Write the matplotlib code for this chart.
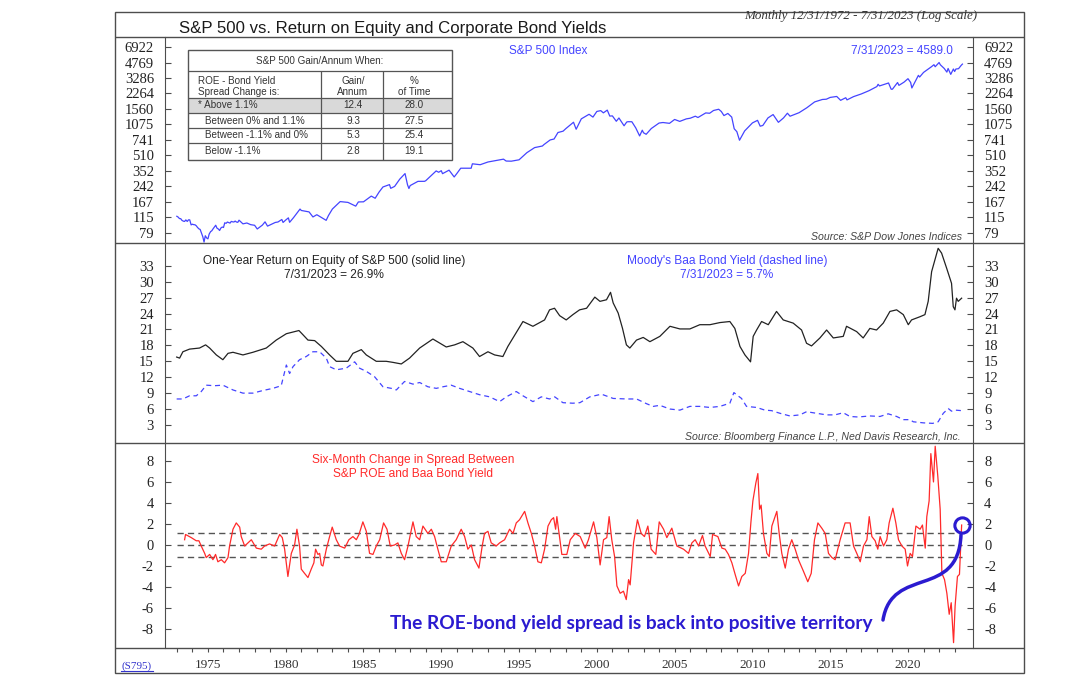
import matplotlib
matplotlib.use("Agg")
import matplotlib.pyplot as plt
from matplotlib.path import Path
from matplotlib.patches import PathPatch, Rectangle
from matplotlib.ticker import NullLocator, FixedLocator

plt.rcParams['axes.unicode_minus'] = False
plt.rcParams['font.family'] = ['Liberation Serif', 'DejaVu Serif']

# ---- S&P 500 index, month end (log scale panel) ----
spx_dates = [1973.00, 1973.08, 1973.17, 1973.25, 1973.33, 1973.42, 1973.50, 1973.58, 1973.67, 1973.75,
             1973.83, 1973.92, 1974.00, 1974.08, 1974.17, 1974.25, 1974.33, 1974.42, 1974.50, 1974.58,
             1974.67, 1974.75, 1974.83, 1974.92, 1975.00, 1975.08, 1975.17, 1975.25, 1975.33, 1975.42,
             1975.50, 1975.58, 1975.67, 1975.75, 1975.83, 1975.92, 1976.00, 1976.08, 1976.17, 1976.25,
             1976.33, 1976.42, 1976.50, 1976.58, 1976.67, 1976.75, 1976.83, 1976.92, 1977.00, 1977.25,
             1977.50, 1977.75, 1978.00, 1978.17, 1978.50, 1978.67, 1978.83, 1979.00, 1979.33, 1979.50,
             1979.75, 1979.83, 1980.00, 1980.17, 1980.25, 1980.50, 1980.92, 1981.00, 1981.50, 1981.75,
             1982.00, 1982.50, 1982.60, 1982.75, 1983.00, 1983.50, 1984.00, 1984.50, 1984.67, 1985.00,
             1985.50, 1985.75, 1986.00, 1986.25, 1986.67, 1986.75, 1987.00, 1987.33, 1987.67, 1987.83,
             1987.92, 1988.00, 1988.50, 1988.92, 1989.00, 1989.67, 1989.83, 1990.00, 1990.08, 1990.50,
             1990.83, 1991.00, 1991.25, 1991.92, 1992.00, 1992.50, 1993.00, 1993.50, 1994.00, 1994.17,
             1994.50, 1995.00, 1995.50, 1996.00, 1996.50, 1996.60, 1997.00, 1997.25, 1997.50, 1997.67,
             1997.83, 1998.00, 1998.50, 1998.67, 1999.00, 1999.50, 1999.75, 2000.00, 2000.25, 2000.42,
             2000.67, 2000.83, 2001.00, 2001.25, 2001.42, 2001.75, 2001.92, 2002.00, 2002.25, 2002.50,
             2002.75, 2002.92, 2003.00, 2003.17, 2003.50, 2004.00, 2004.25, 2004.67, 2005.00, 2005.33,
             2005.75, 2006.00, 2006.33, 2006.50, 2007.00, 2007.25, 2007.50, 2007.83, 2008.00, 2008.17,
             2008.42, 2008.67, 2008.83, 2009.00, 2009.17, 2009.50, 2010.00, 2010.25, 2010.33, 2010.50,
             2010.67, 2011.00, 2011.33, 2011.67, 2012.00, 2012.25, 2012.42, 2013.00, 2013.50, 2014.00,
             2014.50, 2014.75, 2015.00, 2015.42, 2015.67, 2016.00, 2016.08, 2016.50, 2017.00, 2017.50,
             2018.00, 2018.08, 2018.17, 2018.75, 2018.92, 2019.00, 2019.33, 2019.42, 2019.75, 2020.00,
             2020.17, 2020.25, 2020.50, 2020.67, 2020.75, 2021.00, 2021.50, 2021.67, 2021.75, 2022.00,
             2022.08, 2022.33, 2022.50, 2022.58, 2022.75, 2022.92, 2023.00, 2023.08, 2023.25, 2023.42,
             2023.50]
spx_values = [118.1, 116.0, 111.7, 111.5, 107.0, 105.0, 104.3, 108.2, 104.3, 108.4,
              108.3, 96.0, 97.6, 96.6, 96.2, 94.0, 90.3, 87.3, 86.0, 79.3,
              72.2, 63.5, 73.9, 70.0, 68.6, 77.0, 81.6, 83.4, 87.3, 91.2,
              95.2, 88.8, 86.9, 83.9, 89.0, 91.2, 90.2, 100.9, 99.7, 102.8,
              101.6, 100.2, 104.3, 103.4, 102.9, 105.2, 102.9, 102.1, 107.5, 98.4,
              100.5, 96.5, 95.1, 87.0, 95.5, 103.3, 93.2, 96.1, 101.8, 102.9,
              109.3, 101.8, 107.9, 113.7, 102.1, 114.2, 140.5, 135.8, 131.2, 116.2,
              122.6, 109.6, 107.1, 120.4, 140.6, 168.1, 164.9, 150.7, 166.7, 167.2,
              191.9, 182.1, 211.3, 238.9, 252.9, 231.3, 242.2, 288.4, 329.8, 251.8,
              230.3, 247.1, 273.5, 273.7, 277.7, 351.5, 340.4, 353.4, 329.1, 358.0,
              304.0, 330.2, 375.2, 375.2, 417.1, 408.1, 435.7, 450.5, 466.5, 445.8,
              444.3, 459.3, 544.8, 615.9, 640.0, 662.5, 740.7, 757.1, 885.1, 899.5,
              914.6, 970.4, 1133.8, 957.3, 1229.2, 1372.7, 1282.7, 1469.3, 1498.6, 1420.6,
              1517.7, 1315.2, 1320.3, 1160.3, 1255.8, 1040.9, 1139.5, 1148.1, 1147.4, 989.8,
              815.3, 936.3, 879.8, 848.2, 974.5, 1111.9, 1126.2, 1104.2, 1211.9, 1156.9,
              1228.8, 1248.3, 1310.6, 1270.2, 1418.3, 1406.8, 1503.4, 1549.4, 1468.4, 1330.6,
              1400.4, 1282.8, 968.8, 903.3, 735.1, 919.3, 1115.1, 1169.4, 1186.7, 1030.7,
              1049.3, 1257.6, 1363.6, 1131.4, 1257.6, 1408.5, 1310.3, 1426.2, 1606.3, 1848.4,
              1960.2, 1972.3, 2058.9, 2107.4, 1920.0, 2043.9, 1940.2, 2098.9, 2238.8, 2423.4,
              2673.6, 2823.8, 2713.8, 2914.0, 2506.9, 2506.9, 2945.8, 2752.1, 2976.7, 3230.8,
              2954.2, 2584.6, 3100.3, 3500.3, 3363.0, 3756.1, 4297.5, 4522.7, 4307.5, 4766.2,
              4515.6, 4131.9, 3785.4, 4130.3, 3585.6, 4080.1, 3839.5, 4076.6, 4109.3, 4450.4,
              4589.0]
spx_ticks = [79, 115, 167, 242, 352, 510, 741, 1075, 1560, 2264, 3286, 4769, 6922]

# ---- One-year ROE of S&P 500 (%) ----
roe_dates = [1972.99, 1973.18, 1973.39, 1973.82, 1974.46, 1974.85, 1975.11, 1975.54, 1975.96, 1976.29,
             1976.61, 1977.25, 1977.89, 1978.75, 1979.39, 1980.04, 1980.85, 1981.11, 1981.43, 1981.86,
             1982.29, 1982.82, 1983.25, 1984.00, 1984.32, 1984.86, 1985.18, 1985.82, 1986.46, 1986.89,
             1987.43, 1987.96, 1988.61, 1989.46, 1990.32, 1990.86, 1991.39, 1992.03, 1992.46, 1993.00,
             1993.43, 1993.96, 1994.28, 1995.25, 1995.89, 1996.64, 1996.96, 1997.28, 1997.61, 1998.03,
             1998.46, 1998.89, 1999.34, 1999.87, 2000.20, 2000.62, 2000.88, 2001.05, 2001.37, 2001.65,
             2001.90, 2002.12, 2002.55, 2002.98, 2003.41, 2004.05, 2004.70, 2005.34, 2005.98, 2006.62,
             2007.27, 2007.91, 2008.55, 2008.87, 2009.20, 2009.52, 2009.88, 2010.05, 2010.27, 2010.59,
             2011.02, 2011.55, 2011.98, 2012.62, 2013.16, 2013.48, 2013.80, 2014.34, 2014.77, 2015.20,
             2015.84, 2016.05, 2016.70, 2017.12, 2017.55, 2017.98, 2018.41, 2018.84, 2019.27, 2019.70,
             2020.02, 2020.23, 2020.77, 2021.09, 2021.30, 2021.52, 2021.73, 2021.94, 2022.16, 2022.48,
             2022.80, 2022.91, 2023.02, 2023.12, 2023.23, 2023.45]
roe_values = [15.8, 15.6, 16.8, 17.3, 17.5, 18.1, 17.5, 16.2, 15.3, 16.5,
              16.7, 16.2, 16.7, 17.5, 19.0, 20.2, 20.8, 20.0, 19.0, 18.9,
              17.8, 16.2, 15.0, 15.0, 16.5, 17.2, 16.2, 15.0, 15.0, 14.8,
              14.5, 15.6, 17.5, 19.2, 17.7, 18.1, 18.7, 17.5, 15.9, 16.8,
              16.2, 15.9, 17.8, 22.5, 21.6, 22.8, 24.7, 25.0, 23.6, 22.8,
              23.8, 24.7, 25.0, 27.1, 26.3, 26.6, 28.0, 26.0, 24.1, 21.2,
              18.1, 17.5, 19.0, 19.5, 18.7, 19.7, 21.6, 21.1, 21.1, 21.9,
              21.9, 22.3, 22.5, 21.2, 17.8, 16.2, 14.9, 19.7, 20.9, 22.5,
              21.9, 24.4, 22.8, 22.2, 20.9, 18.4, 17.9, 19.4, 20.9, 19.4,
              19.7, 21.6, 20.6, 19.4, 21.2, 20.9, 22.2, 24.4, 24.7, 23.8,
              21.9, 22.8, 23.4, 23.8, 26.3, 31.9, 34.1, 36.3, 35.4, 32.6,
              29.7, 25.3, 24.7, 26.9, 26.3, 26.9]

# ---- Moody's Baa bond yield (%) ----
baa_dates = [1972.99, 1973.39, 1973.82, 1974.25, 1974.57, 1974.89, 1975.43, 1975.96, 1976.61, 1977.25,
             1977.89, 1978.54, 1979.18, 1979.71, 1980.04, 1980.25, 1980.47, 1980.89, 1981.32, 1981.75,
             1982.18, 1982.61, 1982.82, 1983.25, 1983.89, 1984.43, 1984.75, 1985.18, 1985.71, 1986.25,
             1986.79, 1987.11, 1987.64, 1988.18, 1988.61, 1989.14, 1989.68, 1990.11, 1990.64, 1991.18,
             1991.82, 1992.46, 1993.11, 1993.75, 1994.18, 1994.82, 1995.25, 1995.89, 1996.43, 1996.96,
             1997.29, 1997.82, 1998.46, 1998.91, 1999.55, 2000.30, 2001.05, 2001.91, 2002.55, 2003.20,
             2003.62, 2004.05, 2004.70, 2005.34, 2005.98, 2006.62, 2007.27, 2007.91, 2008.55, 2008.81,
             2008.98, 2009.30, 2009.62, 2010.27, 2010.80, 2011.23, 2011.77, 2012.41, 2013.05, 2013.48,
             2014.12, 2014.77, 2015.30, 2015.84, 2016.27, 2016.80, 2017.55, 2018.20, 2018.73, 2019.27,
             2019.70, 2020.12, 2020.34, 2020.98, 2021.59, 2021.94, 2022.27, 2022.59, 2022.80, 2023.02,
             2023.45]
baa_values = [7.9, 7.9, 8.5, 8.5, 9.3, 10.5, 10.4, 10.5, 9.6, 9.0,
              9.0, 9.5, 9.9, 10.4, 14.3, 12.7, 14.0, 15.3, 15.9, 16.8,
              16.8, 15.6, 14.0, 13.4, 13.7, 14.9, 13.7, 13.1, 12.1, 10.2,
              9.9, 9.6, 11.2, 10.7, 11.0, 10.2, 9.9, 10.2, 10.5, 9.9,
              9.3, 8.7, 8.3, 7.4, 8.3, 9.3, 8.5, 7.4, 8.3, 7.9,
              8.3, 7.2, 7.1, 7.2, 8.3, 8.8, 8.0, 7.9, 7.9, 7.0,
              6.5, 6.7, 6.0, 5.8, 6.5, 6.5, 6.3, 6.5, 7.1, 9.1,
              8.7, 8.0, 6.5, 6.3, 5.8, 5.7, 5.2, 4.7, 4.9, 5.5,
              5.2, 4.9, 4.9, 5.3, 4.6, 4.5, 4.7, 4.6, 5.1, 4.6,
              4.0, 4.0, 3.6, 3.4, 3.3, 3.6, 5.2, 6.1, 5.6, 5.8,
              5.7]

# ---- Six-month change in ROE minus Baa spread ----
spread_dates = [1973.50, 1973.56, 1973.93, 1974.25, 1974.42, 1974.57, 1974.79, 1974.89, 1975.11, 1975.32,
                1975.49, 1975.64, 1975.86, 1976.07, 1976.29, 1976.39, 1976.61, 1976.82, 1977.04, 1977.14,
                1977.36, 1977.79, 1978.11, 1978.43, 1978.64, 1978.96, 1979.29, 1979.61, 1979.78, 1979.93,
                1980.14, 1980.36, 1980.57, 1980.72, 1980.89, 1981.00, 1981.21, 1981.43, 1981.64, 1981.81,
                1981.92, 1982.07, 1982.18, 1982.29, 1982.39, 1982.61, 1982.82, 1982.99, 1983.25, 1983.46,
                1983.79, 1984.06, 1984.32, 1984.54, 1984.71, 1984.96, 1985.18, 1985.39, 1985.61, 1985.82,
                1986.04, 1986.29, 1986.51, 1986.72, 1987.00, 1987.21, 1987.43, 1987.64, 1987.86, 1988.18,
                1988.39, 1988.61, 1988.82, 1989.14, 1989.36, 1989.57, 1989.78, 1990.00, 1990.32, 1990.64,
                1990.96, 1991.28, 1991.50, 1991.71, 1991.93, 1992.14, 1992.42, 1992.63, 1992.78, 1993.00,
                1993.21, 1993.53, 1993.75, 1994.07, 1994.39, 1994.61, 1994.82, 1995.03, 1995.36, 1995.57,
                1995.79, 1996.00, 1996.21, 1996.43, 1996.64, 1996.86, 1997.07, 1997.22, 1997.35, 1997.43,
                1997.75, 1998.07, 1998.29, 1998.61, 1998.93, 1999.25, 1999.46, 1999.79, 2000.00, 2000.21,
                2000.43, 2000.64, 2000.79, 2000.96, 2001.14, 2001.29, 2001.50, 2001.71, 2001.89, 2002.04,
                2002.14, 2002.36, 2002.61, 2002.85, 2003.06, 2003.28, 2003.49, 2003.79, 2004.01, 2004.29,
                2004.50, 2004.82, 2005.14, 2005.57, 2005.89, 2006.11, 2006.32, 2006.54, 2006.79, 2006.96,
                2007.29, 2007.44, 2007.78, 2008.04, 2008.25, 2008.46, 2008.68, 2008.89, 2009.11, 2009.32,
                2009.54, 2009.75, 2009.90, 2010.03, 2010.22, 2010.35, 2010.46, 2010.56, 2010.71, 2010.93,
                2011.08, 2011.25, 2011.57, 2011.72, 2011.89, 2012.11, 2012.32, 2012.53, 2012.75, 2012.96,
                2013.28, 2013.56, 2013.78, 2013.99, 2014.21, 2014.46, 2014.68, 2014.89, 2015.11, 2015.32,
                2015.64, 2015.96, 2016.28, 2016.50, 2016.71, 2016.93, 2017.14, 2017.36, 2017.51, 2017.68,
                2017.89, 2018.06, 2018.21, 2018.43, 2018.64, 2018.79, 2019.03, 2019.22, 2019.39, 2019.61,
                2019.82, 2019.97, 2020.14, 2020.29, 2020.51, 2020.78, 2020.93, 2021.11, 2021.21, 2021.36,
                2021.47, 2021.64, 2021.75, 2021.92, 2022.07, 2022.18, 2022.35, 2022.50, 2022.65, 2022.78,
                2022.93, 2023.03, 2023.18, 2023.31, 2023.45]
spread_values = [0.5, 1.0, 0.7, 0.4, 0.4, -0.1, -0.8, -1.2, -0.9, -1.4,
                 -0.9, -1.6, -1.4, -1.7, -1.2, -0.1, 1.5, 2.1, 1.7, 0.8,
                 -0.1, 0.5, -0.3, -0.4, -0.1, 0.1, -0.1, 1.0, 0.7, -0.4,
                 -3.0, -0.8, 0.0, 1.5, -0.1, -2.3, -2.7, -3.1, -2.3, -1.7,
                 -0.4, -0.9, -0.8, -1.9, -2.0, -0.4, 0.8, 1.7, 0.5, -0.1,
                 -0.3, 0.5, 0.8, 0.5, 1.0, 2.2, 1.3, -0.8, -0.9, -0.1,
                 0.5, 2.1, 1.5, -0.1, 0.0, 0.2, -0.8, -1.4, -0.1, 2.2,
                 0.8, 0.5, 1.8, 1.1, 1.5, 0.8, -0.4, -1.6, -1.6, -0.1,
                 0.5, 1.5, 0.8, -0.4, 0.0, -1.4, -2.2, -0.1, 1.1, 1.3,
                 0.2, -0.1, 0.2, 0.5, 1.5, 1.1, 2.1, 2.4, 3.2, 2.1,
                 1.1, -0.1, -1.6, -1.7, -0.4, 1.8, 2.4, 2.6, 1.5, 2.7,
                 -0.9, -0.9, 0.5, 1.1, 0.8, -0.3, 0.5, 2.2, 0.7, -1.9,
                 0.5, 0.7, 2.7, 0.5, -1.1, -3.9, -4.6, -4.4, -5.2, -3.3,
                 -3.8, 0.2, 2.4, 1.1, 0.8, 1.8, -0.4, -0.9, 2.2, 1.5,
                 0.7, 1.6, -0.1, -0.4, -0.8, 0.2, 0.5, -0.1, 0.9, -0.1,
                 -1.1, 1.0, 0.8, -0.3, -0.4, -0.9, -1.7, -2.8, -3.9, -3.0,
                 -2.7, -0.8, 2.1, 4.2, 5.9, 6.8, 3.4, 3.8, 1.1, -0.8,
                 -1.1, 1.8, 3.2, 1.1, -0.8, -2.2, -0.4, 0.5, -0.4, -1.4,
                 -2.5, -3.5, -2.7, 0.5, 2.1, 1.6, 1.1, -0.8, -1.2, -1.4,
                 0.5, 2.1, 2.1, -0.1, -0.8, -1.6, -0.1, 0.5, 2.7, 0.8,
                 0.4, -0.4, 0.8, -0.1, 0.5, 2.1, 3.5, 2.1, 0.5, -0.1,
                 -0.4, -2.0, -0.8, -1.1, 1.8, 1.5, 1.9, -0.3, 2.7, 4.2,
                 8.7, 6.0, 9.4, 6.5, 3.4, -2.7, -3.3, -4.6, -6.6, -5.5,
                 -9.3, -5.8, -3.0, -2.8, 1.9]
spread_bands = [1.1, 0.0, -1.1]

# ---- table in top panel ----
table_title = "S&P 500 Gain/Annum When:"
table_head = ["ROE - Bond Yield\nSpread Change is:", "Gain/\nAnnum", "%\nof Time"]
spread_ranges = ["* Above 1.1%", "Between 0% and 1.1%", "Between -1.1% and 0%", "Below -1.1%"]
gain_per_annum = [12.4, 9.3, 5.3, 2.8]
pct_of_time = [28.0, 27.5, 25.4, 19.1]

SANS = ['Liberation Sans', 'DejaVu Sans']
SERIF = ['Liberation Serif', 'DejaVu Serif']
FRAME = '#4d4d4d'
BLUE = '#4444ff'
RED = '#ff2a2a'
ANN = '#2b1bd0'

W, H = 1080, 675
fig = plt.figure(figsize=(W / 100, H / 100), dpi=100)


def px_axes(x0, y0, x1, y1, **kw):
    return fig.add_axes([x0 / W, 1 - y1 / H, (x1 - x0) / W, (y1 - y0) / H], **kw)


ax1 = px_axes(165, 37, 973, 243)
ax2 = px_axes(165, 243, 973, 443)
ax3 = px_axes(165, 443, 973, 648)

for ax in (ax1, ax2, ax3):
    ax.set_facecolor('none')
    ax.set_xlim(1972.24, 2024.18)
    ax.spines['top'].set_visible(False)
    ax.spines['bottom'].set_visible(False)
    ax.spines['left'].set_color(FRAME)
    ax.spines['right'].set_color(FRAME)
    ax.tick_params(axis='y', which='both', direction='in', length=4, width=0.8, color=FRAME,
                   left=True, right=True, labelleft=True, labelright=True,
                   labelsize=10.5, pad=8, labelcolor='#222222')
    ax.tick_params(axis='x', which='both', bottom=False, labelbottom=False)

# top panel
ax1.plot(spx_dates, spx_values, color=BLUE, lw=0.9)
ax1.set_yscale('log')
ax1.set_ylim(62.1, 8806)
ax1.yaxis.set_major_locator(FixedLocator(spx_ticks))
ax1.yaxis.set_minor_locator(NullLocator())
ax1.set_yticklabels([str(t) for t in spx_ticks])

# middle panel
ax2.plot(roe_dates, roe_values, color='#222222', lw=0.9)
ax2.plot(baa_dates, baa_values, color=BLUE, lw=0.9, ls=(0, (4, 3)))
ax2.set_ylim(-0.4, 37.3)
ax2.set_yticks(range(3, 34, 3))

# bottom panel
ax3.hlines(spread_bands, spx_dates[0], spx_dates[-1], colors='#555555', lw=1,
           linestyles=(0, (4.5, 3)))
ax3.plot(spread_dates, spread_values, color=RED, lw=0.9)
ax3.plot(spread_dates[-1], spread_values[-1], 'o', ms=11, mfc='none', mec=ANN, mew=2.2, clip_on=False)
ax3.set_ylim(-9.81, 9.71)
ax3.set_yticks(range(-8, 9, 2))
ax3.set_xticks(range(1975, 2021, 5))
ax3.set_xticks(range(1973, 2024), minor=True)
ax3.tick_params(axis='x', which='both', bottom=True, labelbottom=True, direction='out',
                length=3, width=0.8, color=FRAME, labelsize=9.5, pad=5, labelcolor='#333333')
ax3.tick_params(axis='x', which='minor', labelbottom=False)

# overlay in pixel coordinates for the frame, headings, table and note
ov = fig.add_axes([0, 0, 1, 1], zorder=5)
ov.set_xlim(0, W)
ov.set_ylim(H, 0)
ov.axis('off')
ov.patch.set_alpha(0)

ov.add_patch(Rectangle((115, 12), 909, 661, fill=False, ec=FRAME, lw=1))
ov.hlines([37, 243, 443, 648], 115, 1024, colors=FRAME, lw=1)

ov.text(393, 33, "S&P 500 vs. Return on Equity and Corporate Bond Yields", family=SANS,
        fontsize=12.1, color='#1a1a1a', ha='center', va='baseline')
ov.text(977, 19, "Monthly 12/31/1972 - 7/31/2023 (Log Scale)", family=SERIF, style='italic',
        fontsize=9.4, color='#333333', ha='right', va='baseline')

ov.text(548, 51, "S&P 500 Index", family=SANS, fontsize=8.5, color=BLUE, ha='center', va='center')
ov.text(953, 51, "7/31/2023 = 4589.0", family=SANS, fontsize=8.5, color=BLUE, ha='right', va='center')
ov.text(962, 237, "Source: S&P Dow Jones Indices", family=SANS, style='italic', fontsize=7.6,
        color='#444444', ha='right', va='center')

ov.text(334, 268, "One-Year Return on Equity of S&P 500 (solid line)\n7/31/2023 = 26.9%", family=SANS,
        fontsize=8.6, color='#222222', ha='center', va='center', linespacing=1.3)
ov.text(727, 268, "Moody's Baa Bond Yield (dashed line)\n7/31/2023 = 5.7%", family=SANS,
        fontsize=8.6, color=BLUE, ha='center', va='center', linespacing=1.3)
ov.text(961, 437, "Source: Bloomberg Finance L.P., Ned Davis Research, Inc.", family=SANS,
        style='italic', fontsize=7.6, color='#444444', ha='right', va='center')

ov.text(413, 467, "Six-Month Change in Spread Between\nS&P ROE and Baa Bond Yield", family=SANS,
        fontsize=8.6, color=RED, ha='center', va='center', linespacing=1.3)

ov.text(631, 623, "The ROE-bond yield spread is back into positive territory", family=['Lato', 'DejaVu Sans'],
        fontweight='bold', fontsize=13.8, color=ANN, ha='center', va='center')
curve = Path([(883, 620), (892, 565), (958, 600), (961, 535)],
             [Path.MOVETO, Path.CURVE4, Path.CURVE4, Path.CURVE4])
ov.add_patch(PathPatch(curve, fill=False, ec=ANN, lw=2.5, capstyle='round'))

ov.text(137, 666, "(S795)", family=SERIF, fontsize=8, color='#3333cc', ha='center', va='center')
ov.plot([121, 153], [671, 671], color='#3333cc', lw=0.8)

# table
tx0, tx1, ty0, ty1 = 188, 452, 50, 160
col1, col2 = 321, 383
row_lines = [71, 98, 113, 128, 143]
ov.add_patch(Rectangle((tx0, row_lines[1]), tx1 - tx0, row_lines[2] - row_lines[1], fc='#d9d9d9', ec='none'))
ov.add_patch(Rectangle((tx0, ty0), tx1 - tx0, ty1 - ty0, fill=False, ec='#555555', lw=1))
ov.hlines(row_lines, tx0, tx1, colors='#555555', lw=0.9)
ov.vlines([col1, col2], row_lines[0], ty1, colors='#555555', lw=0.9)
tfont = dict(family=SANS, fontsize=7.1, color='#333333', va='center')
ov.text((tx0 + tx1) / 2, 61, table_title, ha='center', **tfont)
ov.text(198, 86.5, table_head[0], ha='left', linespacing=1.15, **tfont)
ov.text(353, 86.5, table_head[1], ha='center', linespacing=1.15, **tfont)
ov.text(414, 86.5, table_head[2], ha='center', linespacing=1.15, **tfont)
for i, (lab, g, p) in enumerate(zip(spread_ranges, gain_per_annum, pct_of_time)):
    yc = (row_lines[i + 1] + (row_lines[i + 2] if i + 2 < len(row_lines) else ty1)) / 2
    ov.text(198 if i == 0 else 205, yc, lab, ha='left', **tfont)
    ov.text(353, yc, f"{g:.1f}", ha='center', **tfont)
    ov.text(414, yc, f"{p:.1f}", ha='center', **tfont)

fig.savefig("out.png", dpi=100)
